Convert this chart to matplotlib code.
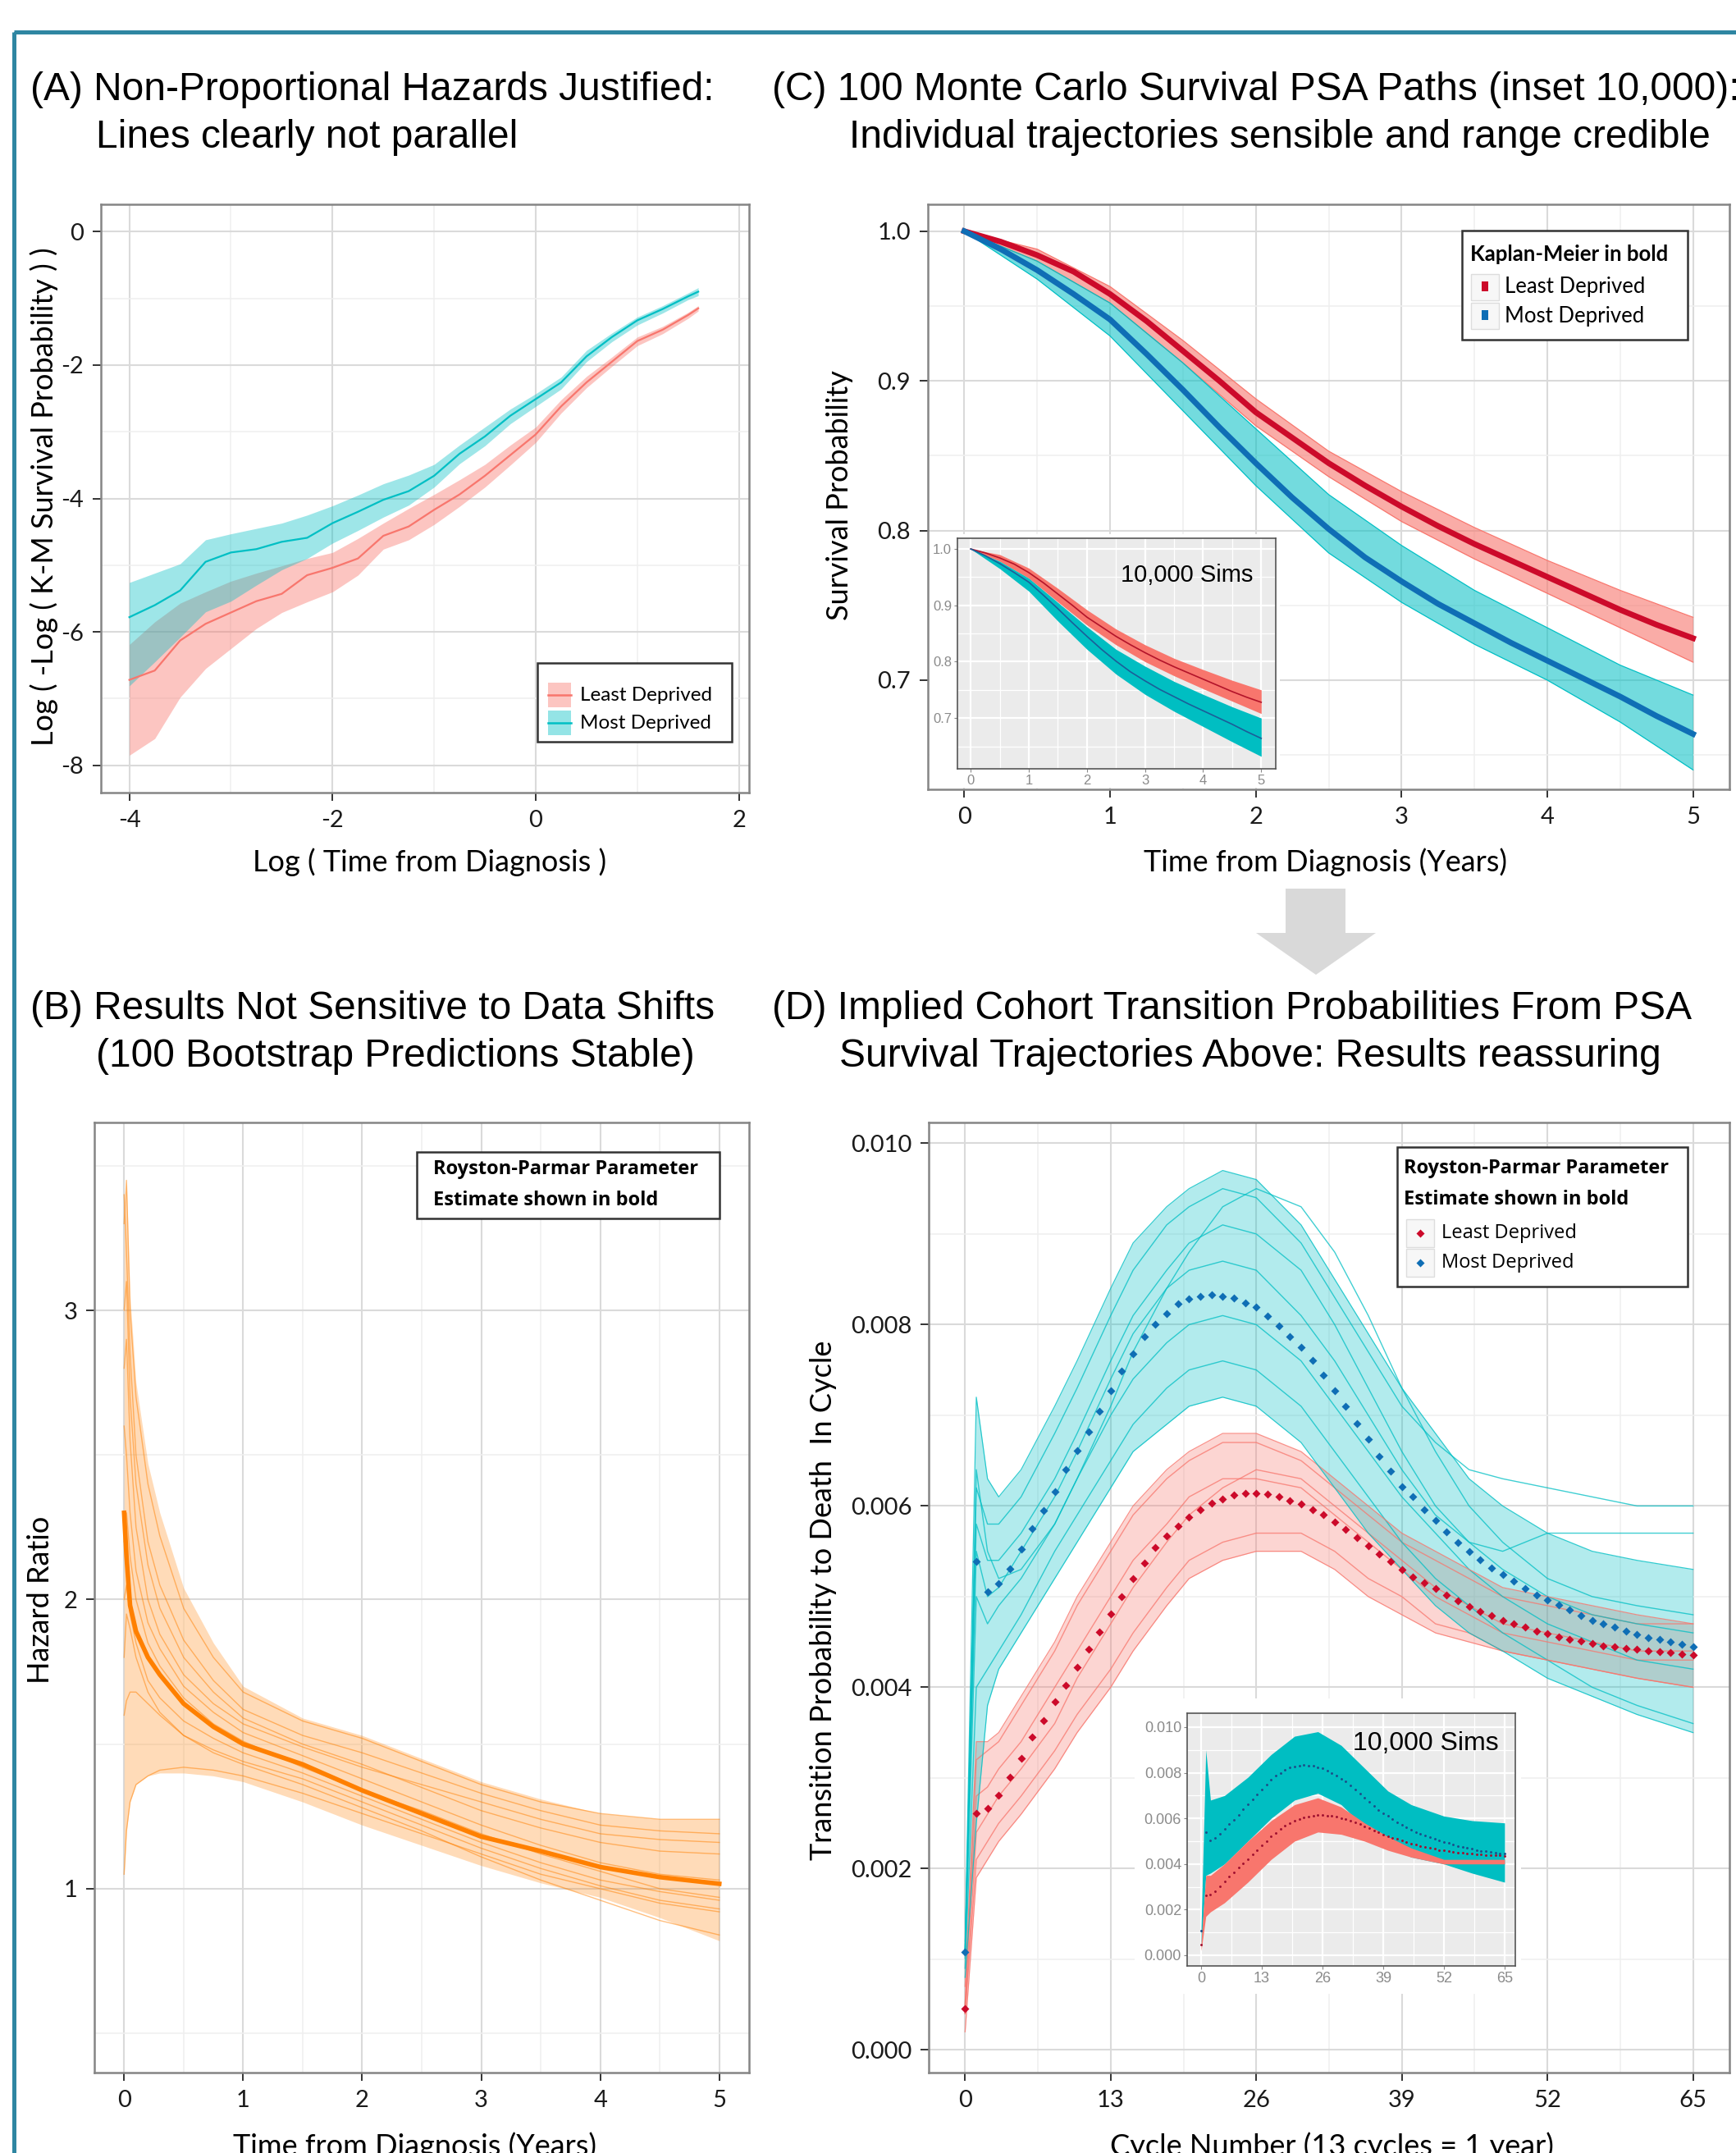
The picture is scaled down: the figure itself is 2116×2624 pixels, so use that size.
import matplotlib
matplotlib.use("Agg")
import matplotlib.pyplot as plt
from matplotlib.patches import Rectangle, Polygon
from matplotlib.transforms import Affine2D
from matplotlib.ticker import FormatStrFormatter

W, H, DPI = 2116, 2624, 100
plt.rcParams['font.family'] = ['Lato', 'DejaVu Sans']
plt.rcParams['axes.unicode_minus'] = False

TEAL = '#00BFC4'
SALMON = '#F8766D'
KM_RED = '#CC0A2A'
KM_BLUE = '#0F6EB5'
ORANGE = '#FF8000'

# ---- panel A: log(-log S) vs log(time), KM with bands
a_x = [-4, -3.75, -3.5, -3.25, -3, -2.75, -2.5, -2.25, -2, -1.75, -1.5, -1.25,
       -1, -0.75, -0.5, -0.25, 0, 0.25, 0.5, 0.75, 1.0, 1.25, 1.5, 1.6]
a_most = [-5.78, -5.60, -5.38, -4.95, -4.81, -4.76, -4.65, -4.59, -4.37, -4.20, -4.02, -3.89,
          -3.66, -3.33, -3.07, -2.76, -2.51, -2.26, -1.87, -1.58, -1.33, -1.16, -0.97, -0.90]
a_most_hi = [-5.26, -5.12, -4.98, -4.62, -4.53, -4.45, -4.37, -4.25, -4.11, -3.95, -3.78, -3.65,
             -3.49, -3.20, -2.93, -2.66, -2.43, -2.18, -1.78, -1.52, -1.28, -1.11, -0.92, -0.84]
a_most_lo = [-6.81, -6.45, -6.08, -5.70, -5.54, -5.30, -5.07, -4.90, -4.67, -4.48, -4.28, -4.10,
             -3.83, -3.48, -3.21, -2.88, -2.62, -2.36, -1.95, -1.65, -1.40, -1.22, -1.02, -0.96]
a_least = [-6.72, -6.58, -6.13, -5.88, -5.71, -5.54, -5.43, -5.15, -5.04, -4.90, -4.56, -4.42,
           -4.17, -3.94, -3.66, -3.35, -3.04, -2.62, -2.26, -1.95, -1.64, -1.47, -1.25, -1.15]
a_least_hi = [-6.19, -5.85, -5.57, -5.40, -5.24, -5.12, -5.01, -4.90, -4.81, -4.60, -4.37, -4.15,
              -3.94, -3.72, -3.49, -3.20, -2.93, -2.52, -2.17, -1.88, -1.58, -1.42, -1.21, -1.11]
a_least_lo = [-7.85, -7.60, -6.98, -6.55, -6.25, -5.95, -5.71, -5.55, -5.40, -5.15, -4.76, -4.62,
              -4.39, -4.12, -3.83, -3.50, -3.16, -2.72, -2.34, -2.02, -1.71, -1.53, -1.30, -1.19]

# ---- panel C: survival, KM (bold) and PSA path envelopes
c_t = [0, 0.25, 0.5, 0.75, 1, 1.25, 1.5, 1.75, 2, 2.25, 2.5, 2.75, 3, 3.25, 3.5, 3.75, 4, 4.25, 4.5, 4.75, 5]
c_km_least = [1.0, 0.993, 0.984, 0.973, 0.958, 0.940, 0.920, 0.900, 0.879, 0.862, 0.845, 0.830,
              0.816, 0.803, 0.791, 0.780, 0.769, 0.758, 0.747, 0.737, 0.728]
c_km_most = [1.0, 0.988, 0.974, 0.958, 0.941, 0.918, 0.894, 0.869, 0.845, 0.822, 0.801, 0.782,
             0.766, 0.751, 0.738, 0.725, 0.713, 0.701, 0.689, 0.676, 0.664]
c_env_t = [0, 0.5, 1, 1.5, 2, 2.5, 3, 3.5, 4, 4.5, 5]
c_most_hi = [1.0, 0.980, 0.952, 0.912, 0.868, 0.824, 0.790, 0.760, 0.735, 0.710, 0.690]
c_most_lo = [1.0, 0.968, 0.930, 0.880, 0.830, 0.785, 0.752, 0.724, 0.700, 0.672, 0.640]
c_least_hi = [1.0, 0.988, 0.963, 0.927, 0.888, 0.853, 0.826, 0.802, 0.780, 0.760, 0.742]
c_least_lo = [1.0, 0.980, 0.952, 0.912, 0.870, 0.836, 0.806, 0.781, 0.758, 0.735, 0.712]
# inset (10,000 sims)
ci_most_hi = [1.0, 0.978, 0.948, 0.905, 0.862, 0.822, 0.792, 0.765, 0.742, 0.720, 0.700]
ci_most_lo = [1.0, 0.965, 0.925, 0.872, 0.822, 0.778, 0.742, 0.712, 0.685, 0.658, 0.632]
ci_least_hi = [1.0, 0.990, 0.966, 0.930, 0.892, 0.858, 0.830, 0.806, 0.786, 0.767, 0.750]
ci_least_lo = [1.0, 0.978, 0.948, 0.906, 0.865, 0.830, 0.800, 0.775, 0.752, 0.730, 0.708]

# ---- panel B: hazard ratio bootstrap
b_t = [0, 0.02, 0.05, 0.1, 0.2, 0.3, 0.5, 0.75, 1, 1.5, 2, 2.5, 3, 3.5, 4, 4.5, 5]
b_est = [2.30, 2.15, 1.98, 1.89, 1.80, 1.74, 1.64, 1.56, 1.50, 1.43, 1.34, 1.26, 1.18, 1.13, 1.075, 1.04, 1.017]
b_hi = [3.30, 3.45, 3.05, 2.75, 2.47, 2.30, 2.04, 1.85, 1.70, 1.59, 1.53, 1.45, 1.37, 1.31, 1.26, 1.24, 1.24]
b_lo = [1.05, 1.20, 1.30, 1.36, 1.39, 1.40, 1.40, 1.39, 1.37, 1.30, 1.22, 1.15, 1.08, 1.02, 0.97, 0.90, 0.82]
b_paths = [
    [3.30, 3.45, 3.00, 2.70, 2.40, 2.22, 1.97, 1.80, 1.68, 1.58, 1.52, 1.44, 1.36, 1.30, 1.26, 1.24, 1.24],
    [3.00, 3.10, 2.70, 2.40, 2.12, 1.97, 1.80, 1.68, 1.59, 1.50, 1.43, 1.35, 1.27, 1.21, 1.16, 1.13, 1.12],
    [2.60, 2.50, 2.30, 2.10, 1.92, 1.83, 1.70, 1.61, 1.54, 1.46, 1.38, 1.30, 1.22, 1.15, 1.09, 1.05, 1.03],
    [2.00, 2.05, 1.95, 1.85, 1.72, 1.66, 1.58, 1.52, 1.47, 1.40, 1.32, 1.24, 1.16, 1.09, 1.03, 0.99, 0.96],
    [1.05, 1.20, 1.30, 1.36, 1.39, 1.41, 1.42, 1.41, 1.39, 1.33, 1.26, 1.19, 1.12, 1.05, 1.00, 0.95, 0.92],
    [1.60, 1.65, 1.68, 1.68, 1.64, 1.60, 1.53, 1.47, 1.43, 1.36, 1.28, 1.20, 1.11, 1.03, 0.96, 0.89, 0.84],
    [2.80, 2.90, 2.55, 2.25, 2.00, 1.88, 1.74, 1.64, 1.57, 1.49, 1.42, 1.36, 1.30, 1.24, 1.19, 1.17, 1.16],
    [2.20, 2.30, 2.15, 2.00, 1.85, 1.77, 1.66, 1.57, 1.51, 1.42, 1.34, 1.27, 1.19, 1.12, 1.06, 1.00, 0.97],
    [3.40, 3.20, 2.85, 2.50, 2.20, 2.05, 1.86, 1.72, 1.62, 1.53, 1.47, 1.40, 1.33, 1.27, 1.22, 1.20, 1.19],
    [1.80, 1.95, 1.90, 1.80, 1.68, 1.61, 1.53, 1.48, 1.44, 1.38, 1.30, 1.22, 1.14, 1.07, 1.01, 0.96, 0.93],
]

# ---- panel D: transition probability per cycle
d_cycle = list(range(66))
d_most = [0.00108, 0.00539, 0.00505, 0.00514, 0.00531, 0.00552, 0.00575, 0.00595, 0.00616, 0.00640,
          0.00661, 0.00682, 0.00704, 0.00727, 0.00749, 0.00768, 0.00787, 0.00800, 0.00812, 0.00823,
          0.00828, 0.00831, 0.00833, 0.00831, 0.00829, 0.00824, 0.00819, 0.00809, 0.00799, 0.00787,
          0.00775, 0.00761, 0.00744, 0.00727, 0.00710, 0.00691, 0.00674, 0.00655, 0.00638, 0.00621,
          0.00610, 0.00596, 0.00584, 0.00571, 0.00560, 0.00550, 0.00541, 0.00532, 0.00524, 0.00517,
          0.00509, 0.00502, 0.00496, 0.00491, 0.00485, 0.00479, 0.00474, 0.00470, 0.00466, 0.00462,
          0.00458, 0.00455, 0.00453, 0.00450, 0.00447, 0.00445]
d_least = [0.00046, 0.00261, 0.00266, 0.00281, 0.00301, 0.00322, 0.00345, 0.00363, 0.00384, 0.00402,
           0.00422, 0.00442, 0.00461, 0.00481, 0.00500, 0.00520, 0.00537, 0.00554, 0.00567, 0.00578,
           0.00588, 0.00596, 0.00603, 0.00608, 0.00612, 0.00614, 0.00614, 0.00613, 0.00610, 0.00606,
           0.00602, 0.00596, 0.00590, 0.00582, 0.00574, 0.00565, 0.00556, 0.00547, 0.00539, 0.00530,
           0.00522, 0.00515, 0.00509, 0.00502, 0.00495, 0.00489, 0.00484, 0.00479, 0.00474, 0.00470,
           0.00466, 0.00462, 0.00459, 0.00456, 0.00453, 0.00451, 0.00448, 0.00446, 0.00445, 0.00443,
           0.00442, 0.00440, 0.00439, 0.00438, 0.00437, 0.00436]
d_env_c = [0, 1, 2, 3, 5, 8, 10, 13, 15, 18, 20, 23, 26, 30, 33, 36, 39, 42, 45, 48, 52, 56, 60, 65]
d_most_hi = [0.0012, 0.0072, 0.0063, 0.0061, 0.0064, 0.0071, 0.0076, 0.0084, 0.0089, 0.0093, 0.0095, 0.0097,
             0.0096, 0.0091, 0.0085, 0.0079, 0.0073, 0.0068, 0.0063, 0.0060, 0.0057, 0.0055, 0.0054, 0.0053]
d_most_lo = [0.0008, 0.0025, 0.0038, 0.0042, 0.0046, 0.0052, 0.0056, 0.0062, 0.0066, 0.0069, 0.0071, 0.0072,
             0.0071, 0.0067, 0.0062, 0.0057, 0.0053, 0.0049, 0.0046, 0.0044, 0.0041, 0.0039, 0.0037, 0.0035]
d_least_hi = [0.0007, 0.0034, 0.0034, 0.0035, 0.0039, 0.0045, 0.0050, 0.0056, 0.0060, 0.0064, 0.0066, 0.0068,
              0.0068, 0.0066, 0.0063, 0.0060, 0.0057, 0.0055, 0.0053, 0.0051, 0.0050, 0.0049, 0.0048, 0.0047]
d_least_lo = [0.0002, 0.0019, 0.0021, 0.0023, 0.0026, 0.0031, 0.0035, 0.0040, 0.0044, 0.0049, 0.0052, 0.0054,
              0.0055, 0.0055, 0.0053, 0.0050, 0.0048, 0.0046, 0.0045, 0.0044, 0.0043, 0.0042, 0.0041, 0.0040]
d_most_paths = [
    [0.0011, 0.0062, 0.0058, 0.0058, 0.0061, 0.0068, 0.0073, 0.0081, 0.0086, 0.0091, 0.0093, 0.0095,
     0.0094, 0.0089, 0.0083, 0.0077, 0.0071, 0.0067, 0.0064, 0.0063, 0.0062, 0.0061, 0.0060, 0.0060],
    [0.0009, 0.0040, 0.0042, 0.0044, 0.0048, 0.0055, 0.0059, 0.0065, 0.0069, 0.0073, 0.0075, 0.0076,
     0.0075, 0.0071, 0.0066, 0.0061, 0.0056, 0.0052, 0.0049, 0.0046, 0.0043, 0.0040, 0.0038, 0.0036],
    [0.0011, 0.0058, 0.0054, 0.0054, 0.0057, 0.0063, 0.0068, 0.0076, 0.0081, 0.0086, 0.0089, 0.0091,
     0.0090, 0.0086, 0.0080, 0.0073, 0.0066, 0.0060, 0.0056, 0.0053, 0.0050, 0.0048, 0.0047, 0.0046],
    [0.0010, 0.0050, 0.0047, 0.0049, 0.0052, 0.0058, 0.0063, 0.0070, 0.0074, 0.0078, 0.0080, 0.0081,
     0.0080, 0.0076, 0.0071, 0.0066, 0.0061, 0.0057, 0.0053, 0.0050, 0.0047, 0.0045, 0.0043, 0.0042],
    [0.0011, 0.0064, 0.0055, 0.0052, 0.0053, 0.0058, 0.0063, 0.0071, 0.0077, 0.0084, 0.0088, 0.0093,
     0.0095, 0.0093, 0.0088, 0.0081, 0.0073, 0.0066, 0.0060, 0.0056, 0.0052, 0.0050, 0.0049, 0.0048],
    [0.0011, 0.0055, 0.0050, 0.0051, 0.0055, 0.0061, 0.0066, 0.0074, 0.0079, 0.0084, 0.0086, 0.0087,
     0.0086, 0.0081, 0.0076, 0.0070, 0.0064, 0.0059, 0.0056, 0.0055, 0.0057, 0.0057, 0.0057, 0.0057],
]
d_least_paths = [
    [0.0005, 0.0032, 0.0033, 0.0034, 0.0038, 0.0044, 0.0049, 0.0055, 0.0059, 0.0063, 0.0065, 0.0067,
     0.0067, 0.0065, 0.0062, 0.0059, 0.0056, 0.0054, 0.0052, 0.0050, 0.0049, 0.0048, 0.0047, 0.0047],
    [0.0004, 0.0021, 0.0023, 0.0025, 0.0028, 0.0033, 0.0037, 0.0042, 0.0046, 0.0051, 0.0054, 0.0056,
     0.0057, 0.0057, 0.0055, 0.0052, 0.0050, 0.0047, 0.0046, 0.0044, 0.0043, 0.0042, 0.0041, 0.0040],
    [0.0005, 0.0028, 0.0029, 0.0031, 0.0034, 0.0040, 0.0044, 0.0050, 0.0054, 0.0058, 0.0061, 0.0063,
     0.0063, 0.0062, 0.0059, 0.0056, 0.0053, 0.0050, 0.0048, 0.0046, 0.0045, 0.0044, 0.0043, 0.0043],
    [0.0004, 0.0024, 0.0026, 0.0028, 0.0031, 0.0036, 0.0041, 0.0047, 0.0051, 0.0056, 0.0059, 0.0062,
     0.0064, 0.0063, 0.0060, 0.0057, 0.0054, 0.0051, 0.0049, 0.0047, 0.0046, 0.0045, 0.0044, 0.0044],
]
# inset (10,000 sims)
di_c = [0, 1, 2, 5, 10, 15, 20, 25, 30, 35, 40, 45, 52, 58, 65]
di_most_hi = [0.0012, 0.0090, 0.0068, 0.0070, 0.0078, 0.0088, 0.0096, 0.0098, 0.0092, 0.0082, 0.0072, 0.0066, 0.0061, 0.0059, 0.0058]
di_most_lo = [0.0004, 0.0035, 0.0036, 0.0040, 0.0050, 0.0060, 0.0068, 0.0071, 0.0066, 0.0056, 0.0048, 0.0043, 0.0040, 0.0036, 0.0032]
di_least_hi = [0.0006, 0.0035, 0.0035, 0.0040, 0.0050, 0.0059, 0.0066, 0.0069, 0.0065, 0.0058, 0.0052, 0.0047, 0.0042, 0.0042, 0.0042]
di_least_lo = [0.0002, 0.0017, 0.0019, 0.0023, 0.0032, 0.0042, 0.0050, 0.0054, 0.0053, 0.0050, 0.0046, 0.0043, 0.0040, 0.0040, 0.0040]

fig = plt.figure(figsize=(W / DPI, H / DPI), dpi=DPI)
pix = Affine2D().scale(1 / W, -1 / H).translate(0, 1) + fig.transFigure


def box(l, t, r, b):
    return [l / W, 1 - b / H, (r - l) / W, (b - t) / H]


def style_bw(ax, xmaj, xmin, ymaj, ymin):
    ax.set_xticks(xmaj)
    ax.set_xticks(xmin, minor=True)
    ax.set_yticks(ymaj)
    ax.set_yticks(ymin, minor=True)
    ax.grid(which='major', color='#dadada', lw=1.5)
    ax.grid(which='minor', color='#efefef', lw=1.1)
    ax.set_axisbelow(True)
    for s in ax.spines.values():
        s.set_color('#858585')
        s.set_linewidth(1.8)
    ax.tick_params(which='major', length=7, width=1.4, color='#333333', labelsize=21,
                   labelcolor='#1a1a1a', pad=8)
    ax.tick_params(which='minor', length=0)


def style_inset(ax, xmaj, xmin, ymaj, ymin, fs):
    ax.set_facecolor('#EBEBEB')
    ax.set_xticks(xmaj)
    ax.set_xticks(xmin, minor=True)
    ax.set_yticks(ymaj)
    ax.set_yticks(ymin, minor=True)
    ax.grid(which='major', color='white', lw=1.6)
    ax.grid(which='minor', color='white', lw=0.9)
    ax.set_axisbelow(True)
    for s in ax.spines.values():
        s.set_color('#555555')
        s.set_linewidth(1.2)
    ax.tick_params(which='major', length=3, width=0.8, color='#888888', labelsize=fs,
                   labelcolor='#8a8a8a', pad=2)
    ax.tick_params(which='minor', length=0)
    for lab in ax.get_xticklabels() + ax.get_yticklabels():
        lab.set_fontfamily('Liberation Sans')


def ftext(x, y, s, **kw):
    fig.text(x, y, s, transform=pix, **kw)


# ======================= panel A
axA = fig.add_axes(box(123, 249, 913, 966))
axA.fill_between(a_x, a_least_lo, a_least_hi, color=SALMON, alpha=0.42, lw=0)
axA.fill_between(a_x, a_most_lo, a_most_hi, color=TEAL, alpha=0.38, lw=0)
axA.plot(a_x, a_least, color=SALMON, lw=1.6)
axA.plot(a_x, a_most, color=TEAL, lw=1.6)
axA.set_xlim(-4.28, 2.1)
axA.set_ylim(-8.41, 0.41)
style_bw(axA, [-4, -2, 0, 2], [-3, -1, 1], [0, -2, -4, -6, -8], [-1, -3, -5, -7])

# ======================= panel C
axC = fig.add_axes(box(1131, 249, 2108, 962))
axC.fill_between(c_env_t, c_least_lo, c_least_hi, color=SALMON, alpha=0.6, lw=0)
axC.plot(c_env_t, c_least_hi, color=SALMON, lw=0.9)
axC.plot(c_env_t, c_least_lo, color=SALMON, lw=0.9)
axC.fill_between(c_env_t, c_most_lo, c_most_hi, color=TEAL, alpha=0.55, lw=0)
axC.plot(c_env_t, c_most_hi, color=TEAL, lw=0.9)
axC.plot(c_env_t, c_most_lo, color=TEAL, lw=0.9)
axC.plot(c_t, c_km_least, color=KM_RED, lw=5)
axC.plot(c_t, c_km_most, color=KM_BLUE, lw=5)
axC.set_xlim(-0.25, 5.25)
axC.set_ylim(0.627, 1.018)
style_bw(axC, [0, 1, 2, 3, 4, 5], [0.5, 1.5, 2.5, 3.5, 4.5],
         [0.7, 0.8, 0.9, 1.0], [0.65, 0.75, 0.85, 0.95])
axC.yaxis.set_major_formatter(FormatStrFormatter('%.1f'))

# inset C
fig.add_artist(Rectangle((1133, 651), 1560 - 1133, 960 - 651, transform=pix,
                         fc='white', ec='none', zorder=1))
axCi = fig.add_axes(box(1167, 656, 1555, 937))
axCi.set_zorder(2)
axCi.fill_between(c_env_t, ci_least_lo, ci_least_hi, color=SALMON, lw=0)
axCi.fill_between(c_env_t, ci_most_lo, ci_most_hi, color='#00BEC2', lw=0)
axCi.plot(c_t, c_km_least, color='#B3142A', lw=1.2)
axCi.plot(c_t, c_km_most, color='#1B5E99', lw=1.2)
axCi.set_xlim(-0.23, 5.25)
axCi.set_ylim(0.61, 1.019)
style_inset(axCi, [0, 1, 2, 3, 4, 5], [0.5, 1.5, 2.5, 3.5, 4.5],
            [0.7, 0.8, 0.9, 1.0], [0.65, 0.75, 0.85, 0.95], 12)
axCi.yaxis.set_major_formatter(FormatStrFormatter('%.1f'))
axCi.text(0.93, 0.84, '10,000 Sims', transform=axCi.transAxes, ha='right', va='center',
          fontsize=21, family='Liberation Sans', color='black')

# ======================= panel B
axB = fig.add_axes(box(115, 1368, 913, 2526))
axB.fill_between(b_t, b_lo, b_hi, color=ORANGE, alpha=0.28, lw=0)
for p in b_paths:
    axB.plot(b_t, p, color=ORANGE, lw=1.0, alpha=0.5)
axB.plot(b_t, b_est, color=ORANGE, lw=4)
axB.set_xlim(-0.25, 5.25)
axB.set_ylim(0.364, 3.65)
style_bw(axB, [0, 1, 2, 3, 4, 5], [0.5, 1.5, 2.5, 3.5, 4.5], [1, 2, 3], [0.5, 1.5, 2.5, 3.5])

# ======================= panel D
axD = fig.add_axes(box(1132, 1368, 2108, 2526))
axD.fill_between(d_env_c, d_least_lo, d_least_hi, color=SALMON, alpha=0.3, lw=0)
axD.fill_between(d_env_c, d_most_lo, d_most_hi, color=TEAL, alpha=0.3, lw=0)
for p in d_least_paths:
    axD.plot(d_env_c, p, color=SALMON, lw=1.0, alpha=0.75)
for p in d_most_paths:
    axD.plot(d_env_c, p, color=TEAL, lw=1.0, alpha=0.75)
for lo_hi, col in (((d_least_lo, d_least_hi), SALMON), ((d_most_lo, d_most_hi), TEAL)):
    axD.plot(d_env_c, lo_hi[0], color=col, lw=0.9, alpha=0.8)
    axD.plot(d_env_c, lo_hi[1], color=col, lw=0.9, alpha=0.8)
axD.plot(d_cycle, d_least, 'D', color=KM_RED, ms=5.5, mec='none')
axD.plot(d_cycle, d_most, 'D', color=KM_BLUE, ms=5.5, mec='none')
axD.set_xlim(-3.25, 68.25)
axD.set_ylim(-0.00025, 0.01023)
style_bw(axD, [0, 13, 26, 39, 52, 65], [6.5, 19.5, 32.5, 45.5, 58.5],
         [0, 0.002, 0.004, 0.006, 0.008, 0.010], [0.001, 0.003, 0.005, 0.007, 0.009])
axD.yaxis.set_major_formatter(FormatStrFormatter('%.3f'))

# inset D
fig.add_artist(Rectangle((1383, 2070), 1854 - 1383, 2430 - 2070, transform=pix,
                         fc='white', ec='none', zorder=1))
axDi = fig.add_axes(box(1447, 2088, 1847, 2396))
axDi.set_zorder(2)
axDi.fill_between(di_c, di_most_lo, di_most_hi, color='#00BEC2', lw=0)
axDi.fill_between(di_c, di_least_lo, di_least_hi, color=SALMON, lw=0)
axDi.plot(d_cycle, d_least, '.', color='#A01030', ms=2.2)
axDi.plot(d_cycle, d_most, '.', color='#1B4F8A', ms=2.2)
axDi.set_xlim(-3.0, 67.3)
axDi.set_ylim(-0.00047, 0.01061)
style_inset(axDi, [0, 13, 26, 39, 52, 65], [6.5, 19.5, 32.5, 45.5, 58.5],
            [0, 0.002, 0.004, 0.006, 0.008, 0.010], [0.001, 0.003, 0.005, 0.007, 0.009], 13)
axDi.yaxis.set_major_formatter(FormatStrFormatter('%.3f'))
axDi.text(0.95, 0.88, '10,000 Sims', transform=axDi.transAxes, ha='right', va='center',
          fontsize=23, family='Liberation Sans', color='black')

# ======================= titles
tf = dict(fontsize=34.5, family='Liberation Sans', va='center', ha='left', color='black')
ftext(37, 109, '(A) Non-Proportional Hazards Justified:', **tf)
ftext(117, 167, 'Lines clearly not parallel', **tf)
ftext(941, 109, '(C) 100 Monte Carlo Survival PSA Paths (inset 10,000):', **tf)
ftext(1035, 167, 'Individual trajectories sensible and range credible', **tf)
ftext(37, 1230, '(B) Results Not Sensitive to Data Shifts', **tf)
ftext(117, 1287, '(100 Bootstrap Predictions Stable)', **tf)
ftext(941, 1230, '(D) Implied Cohort Transition Probabilities From PSA', **tf)
ftext(1023, 1287, 'Survival Trajectories Above: Results reassuring', **tf)

# ======================= axis labels
lf = dict(fontsize=26, color='black', ha='center', va='center')
ftext(524, 1051, 'Log ( Time from Diagnosis )', **lf)
ftext(1615, 1051, 'Time from Diagnosis (Years)', **lf)
ftext(506, 2598, 'Time from Diagnosis (Years)', fontsize=26, color='black', ha='center', va='top')
ftext(1623, 2598, 'Cycle Number (13 cycles = 1 year)', fontsize=26, color='black', ha='center', va='top')
ftext(54, 605, 'Log ( -Log ( K-M Survival Probability ) )', rotation=90, **lf)
ftext(1024, 604, 'Survival Probability', rotation=90, **lf)
ftext(50, 1950, 'Hazard Ratio', rotation=90, **lf)
ftext(1004, 1950, 'Transition Probability to Death  In Cycle', rotation=90, **lf)

# ======================= legends
def legend_frame(l, t, r, b):
    fig.add_artist(Rectangle((l, t), r - l, b - t, transform=pix, fc='white',
                             ec='#333333', lw=1.8, zorder=5))


def key_box(l, t, w, h):
    fig.add_artist(Rectangle((l, t), w, h, transform=pix, fc='#f7f7f7',
                             ec='#dddddd', lw=1, zorder=6))


# A
legend_frame(655, 808, 892, 904)
for (yc, col, name) in ((847, SALMON, 'Least Deprived'), (881, TEAL, 'Most Deprived')):
    fig.add_artist(Rectangle((668, yc - 15), 28, 30, transform=pix, fc=col, alpha=0.42,
                             ec='none', zorder=6))
    fig.add_artist(plt.Line2D([668, 696], [yc, yc], transform=pix, color=col, lw=1.8, zorder=7))
    ftext(707, yc, name, fontsize=17.5, va='center', ha='left', zorder=7)

# C
legend_frame(1782, 281, 2057, 414)
ftext(1792, 310, 'Kaplan-Meier in bold', fontsize=18.5, weight='bold', va='center', ha='left', zorder=7)
for (yc, col, name) in ((350, KM_RED, 'Least Deprived'), (385, KM_BLUE, 'Most Deprived')):
    key_box(1793, yc - 16, 34, 32)
    fig.add_artist(Rectangle((1806, yc - 7), 8, 12, transform=pix, fc=col, ec='none', zorder=7))
    ftext(1834, yc, name, fontsize=18.5, va='center', ha='left', zorder=7)

# B
legend_frame(508, 1404, 877, 1485)
ftext(528, 1425, 'Royston-Parmar Parameter', fontsize=17, weight='bold', family='Open Sans',
      va='center', ha='left', zorder=7)
ftext(528, 1463, 'Estimate shown in bold', fontsize=17, weight='bold', family='Open Sans',
      va='center', ha='left', zorder=7)

# D
legend_frame(1703, 1398, 2057, 1568)
ftext(1711, 1424, 'Royston-Parmar Parameter', fontsize=17, weight='bold', family='Open Sans',
      va='center', ha='left', zorder=7)
ftext(1711, 1462, 'Estimate shown in bold', fontsize=17, weight='bold', family='Open Sans',
      va='center', ha='left', zorder=7)
for (yc, col, name) in ((1503, KM_RED, 'Least Deprived'), (1539, KM_BLUE, 'Most Deprived')):
    key_box(1714, yc - 17, 34, 34)
    fig.add_artist(plt.Line2D([1731], [yc], transform=pix, marker='D', ms=5.5, color=col,
                              mec='none', zorder=7))
    ftext(1757, yc, name, fontsize=17, family='Open Sans', va='center', ha='left', zorder=7)

# ======================= arrow between C and D, outer frame
fig.add_artist(Polygon([(1567, 1083), (1640, 1083), (1640, 1137), (1677, 1137), (1604, 1188),
                        (1531, 1137), (1567, 1137)], closed=True, transform=pix,
                       fc='#D9D9D9', ec='none', zorder=3))
fig.add_artist(Rectangle((17, 39), W + 40, H + 40, transform=pix, fill=False,
                         ec='#2F86A2', lw=3.6, zorder=8))

fig.savefig('out.png', dpi=DPI)
